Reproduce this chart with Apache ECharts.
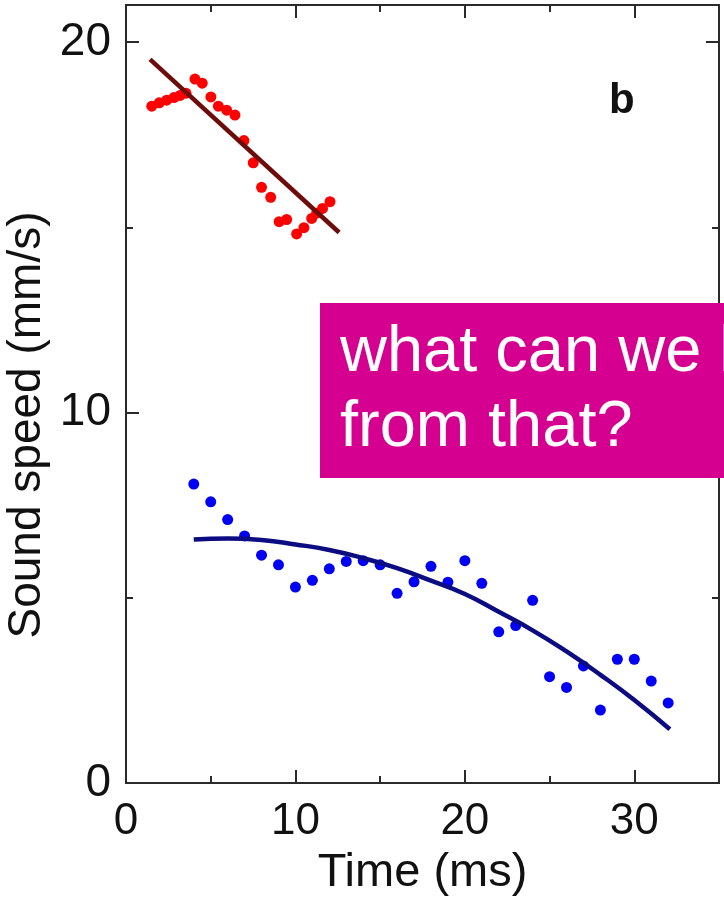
<!DOCTYPE html>
<html>
<head>
<meta charset="utf-8">
<script src="https://cdn.jsdelivr.net/npm/echarts@6/dist/echarts.min.js"></script>
<style>
html,body{margin:0;padding:0;background:#fff;}
#chart{width:724px;height:911px;}
</style>
</head>
<body>
<div id="chart"></div>
<script>
// Red measurements (time ms, sound speed mm/s)
const redTime  = [1.52,1.96,2.40,2.83,3.19,3.54,4.07,4.50,5.01,5.45,5.94,6.43,6.96,7.51,8.00,8.54,9.04,9.48,10.07,10.50,10.96,11.25,11.60,12.04];
const redSpeed = [18.27,18.36,18.43,18.50,18.56,18.62,19.00,18.89,18.52,18.27,18.16,18.03,17.34,16.74,16.08,15.81,15.15,15.21,14.82,14.99,15.24,15.38,15.51,15.69];
// Red linear fit (end points)
const redFitTime  = [1.42, 12.58];
const redFitSpeed = [19.53, 14.86];
// Blue measurements
const blueTime  = [4,5,6,7,8,9,10,11,12,13,14,15,16,17,18,19,20,21,22,23,24,25,26,27,28,29,30,31,32];
const blueSpeed = [8.07,7.59,7.11,6.67,6.15,5.89,5.29,5.47,5.78,5.98,6.00,5.89,5.12,5.43,5.85,5.42,6.00,5.39,4.08,4.25,4.93,2.87,2.58,3.16,1.97,3.34,3.34,2.75,2.16];
// Blue fit curve
const blueFitTime  = [4.0,6,8,10,12,14,16,18,20,22,24,26,28,30,32.1];
const blueFitSpeed = [6.57,6.60,6.56,6.44,6.29,6.07,5.80,5.46,5.10,4.62,4.12,3.55,2.92,2.24,1.45];
// Axis ticks
const xMajorTicks = [0,10,20,30];
const yMajorTicks = [0,10,20];

const pair = (xs, ys) => xs.map((x, i) => [x, ys[i]]);
const FONT = '"Liberation Sans", Arial, Helvetica, sans-serif';
const AX = '#2a2a2a';

function xAx(pos, interval, len, labels, name) {
  return {
    type: 'value', position: pos, min: 0, max: 35, interval: interval,
    axisLine: {show: true, onZero: false, lineStyle: {color: AX, width: 2}},
    axisTick: {show: true, inside: true, length: len, lineStyle: {color: AX, width: 2}},
    axisLabel: labels ? {
      show: true, fontSize: 44, color: '#111', fontFamily: FONT, margin: 17,
      showMaxLabel: false,
      formatter: v => xMajorTicks.includes(v) ? String(v) : ''
    } : {show: false},
    splitLine: {show: false},
    name: name || '',
    nameLocation: 'middle', nameGap: 67,
    nameTextStyle: {fontSize: 47, color: '#111', fontFamily: FONT}
  };
}
function yAx(pos, interval, len, labels, name) {
  return {
    type: 'value', position: pos, min: 0, max: 21, interval: interval,
    axisLine: {show: true, onZero: false, lineStyle: {color: AX, width: 2}},
    axisTick: {show: true, inside: true, length: len, lineStyle: {color: AX, width: 2}},
    axisLabel: labels ? {
      show: true, fontSize: 46, color: '#111', fontFamily: FONT, margin: 15,
      showMaxLabel: false,
      formatter: v => yMajorTicks.includes(v) ? String(v) : ''
    } : {show: false},
    splitLine: {show: false},
    name: name || '',
    nameLocation: 'middle', nameGap: 76, nameMoveOverlap: false,
    nameTextStyle: {fontSize: 46, color: '#111', fontFamily: FONT, padding: [0, 62, 0, 0]}
  };
}

const chart = echarts.init(document.getElementById('chart'), null, {renderer: 'canvas'});
chart.setOption({
  backgroundColor: '#fff',
  animation: false,
  grid: {left: 126, right: 5, top: 5, bottom: 128, containLabel: false, outerBoundsMode: 'none'},
  xAxis: [
    xAx('bottom', 10, 13, true, 'Time (ms)'),
    xAx('bottom', 5, 7, false),
    xAx('top', 10, 13, false),
    xAx('top', 5, 7, false)
  ],
  yAxis: [
    yAx('left', 10, 13, true, 'Sound speed (mm/s)'),
    yAx('left', 5, 7, false),
    yAx('right', 10, 13, false),
    yAx('right', 5, 7, false)
  ],
  series: [
    {type: 'scatter', data: pair(redTime, redSpeed), symbolSize: 11,
     itemStyle: {color: '#ff0000', opacity: 1}, z: 3},
    {type: 'line', data: pair(redFitTime, redFitSpeed), symbol: 'none',
     lineStyle: {color: '#6e0b0b', width: 4.5}, z: 4},
    {type: 'scatter', data: pair(blueTime, blueSpeed), symbolSize: 11,
     itemStyle: {color: '#0000f5', opacity: 1}, z: 3},
    {type: 'line', data: pair(blueFitTime, blueFitSpeed), symbol: 'none', smooth: true,
     lineStyle: {color: '#0c0c82', width: 4.5}, z: 4}
  ],
  graphic: [
    {type: 'text', left: 609, top: 80, z: 10,
     style: {text: 'b', font: 'bold 42px ' + FONT, fill: '#111'}},
    {type: 'rect', left: 320, top: 303, z: 20,
     shape: {width: 420, height: 175},
     style: {fill: '#d5008f'}},
    {type: 'text', left: 340, top: 316, z: 21,
     style: {text: 'what can we learn\nfrom that?', font: '65px ' + FONT, fill: '#fff', lineHeight: 75}}
  ]
});
</script>
</body>
</html>
